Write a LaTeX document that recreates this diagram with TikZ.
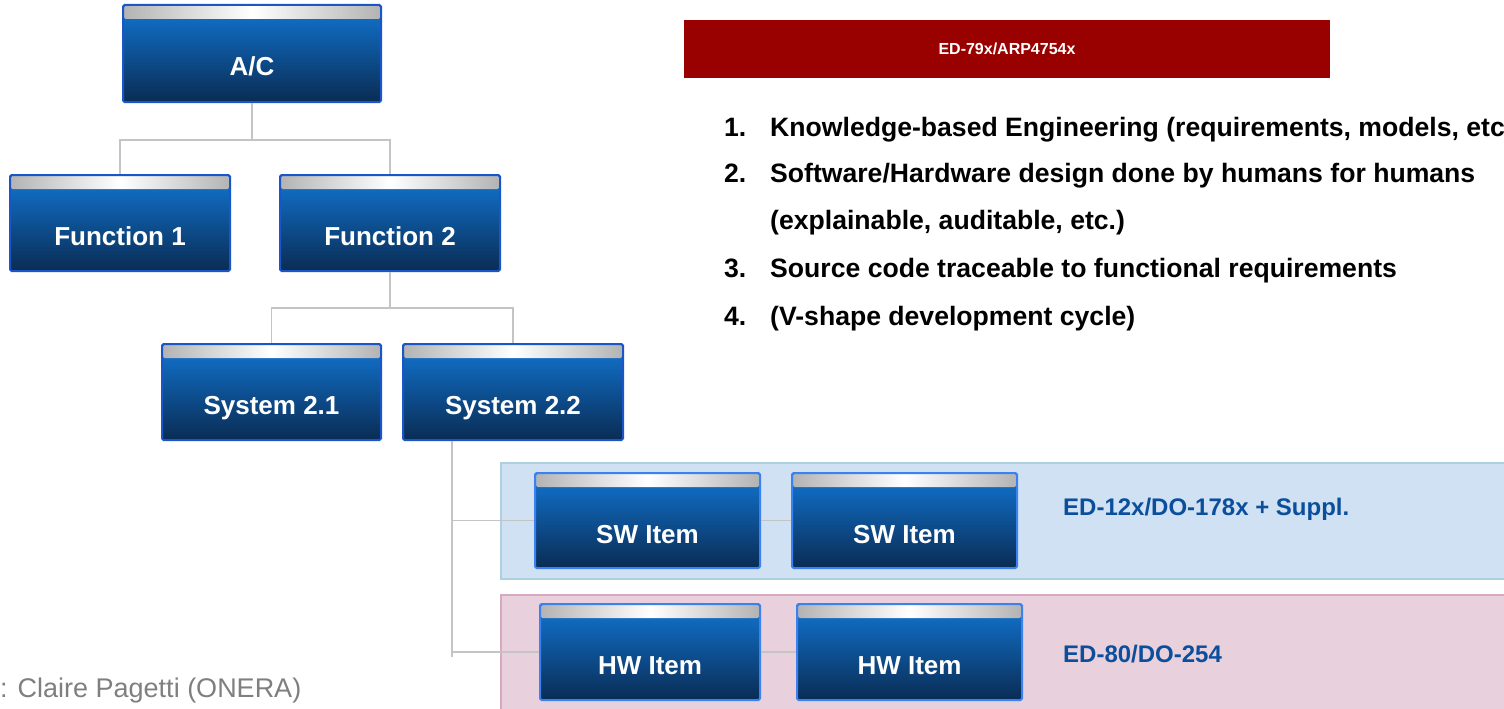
\documentclass[tikz,border=0pt]{standalone}
\usepackage{fontspec}
\setmainfont{Liberation Sans}
\begin{document}
\begin{tikzpicture}[x=1pt,y=-1pt,
  conn/.style={draw=linegray, line width=1.8pt},
  unitbox/.style={draw=#1, line width=2pt, rounded corners=1.5pt,
    top color=bodytop, middle color=bodymid, bottom color=bodybot,
    inner sep=0pt, text height=45pt, text depth=0pt, text=white,
    font=\fontsize{26pt}{30pt}\selectfont\bfseries,
    path picture={\shade[left color=bandgray, right color=bandgray, middle color=white]
      ([xshift=1pt,yshift=-1pt]path picture bounding box.north west) rectangle
      ([xshift=-1pt,yshift=-14pt]path picture bounding box.north east);}},
  unitbox/.default=uppblue,
  panel/.style={draw=#1, line width=1.5pt, anchor=north west, inner sep=0pt},
  listline/.style={anchor=base west, inner sep=0pt, text=black,
    font=\fontsize{26.6pt}{30pt}\selectfont\bfseries},
  stdlabel/.style={anchor=base west, inner sep=0pt, text=stdblue,
    font=\fontsize{24pt}{28pt}\selectfont\bfseries}]
\definecolor{linegray}{HTML}{C4C4C4}
\definecolor{uppblue}{HTML}{1A56C8}
\definecolor{lowblue}{HTML}{3B82F0}
\definecolor{bodytop}{HTML}{1175D2}
\definecolor{bodymid}{HTML}{125FAE}
\definecolor{bodybot}{HTML}{0A2C54}
\definecolor{bandgray}{HTML}{B3B3B3}
\definecolor{stdred}{HTML}{990000}
\definecolor{swfill}{HTML}{CFE1F2}
\definecolor{swedge}{HTML}{ACD0DE}
\definecolor{hwfill}{HTML}{E9D0DD}
\definecolor{hwedge}{HTML}{D6A9C1}
\definecolor{stdblue}{HTML}{0B4F9C}
\definecolor{creditgray}{HTML}{7F7F7F}

\useasboundingbox (0,0) rectangle (1504,709);

% background bands for software and hardware items
\node[panel=swedge, fill=swfill, minimum width=1020pt, minimum height=116pt] (swpanel) at (500,462) {};
\node[panel=hwedge, fill=hwfill, minimum width=1020pt, minimum height=125pt] (hwpanel) at (500,594) {};

% standard header
\node[fill=stdred, minimum width=646pt, minimum height=58pt, inner sep=0pt, text=white,
      font=\fontsize{16pt}{19pt}\selectfont\bfseries] (arp) at (1007,49) {ED-79x/ARP4754x};

% branching points of the hierarchy
\coordinate (acsplit) at (252,140);
\coordinate (fsplit) at (390,308);
\coordinate (trunk) at (452,657);

% box centres
\path (252,53.5) coordinate (acc) (120,223) coordinate (f1c) (390,223) coordinate (f2c)
      (271.5,392) coordinate (s21c) (513,392) coordinate (s22c)
      (647.5,520.5) coordinate (sw1c) (904.5,520.5) coordinate (sw2c)
      (650,652) coordinate (hw1c) (909.5,652) coordinate (hw2c);

% hierarchy boxes
\node[unitbox, minimum width=258pt, minimum height=97pt] (ac) at (acc) {A/C};
\node[unitbox, minimum width=220pt, minimum height=96pt] (f1) at (f1c) {Function 1};
\node[unitbox, minimum width=220pt, minimum height=96pt] (f2) at (f2c) {Function 2};
\node[unitbox, minimum width=219pt, minimum height=96pt] (s21) at (s21c) {System 2.1};
\node[unitbox, minimum width=220pt, minimum height=96pt] (s22) at (s22c) {System 2.2};
\node[unitbox=lowblue, minimum width=225pt, minimum height=95pt] (sw1) at (sw1c) {SW Item};
\node[unitbox=lowblue, minimum width=225pt, minimum height=95pt] (sw2) at (sw2c) {SW Item};
\node[unitbox=lowblue, minimum width=220pt, minimum height=96pt] (hw1) at (hw1c) {HW Item};
\node[unitbox=lowblue, minimum width=225pt, minimum height=96pt] (hw2) at (hw2c) {HW Item};

% connectors between the boxes
\draw[conn] (ac.south) -- (acsplit) -| (f1.north);
\draw[conn] (acsplit) -| (f2.north);
\draw[conn] (f2.south) -- (fsplit) -| (s21.north);
\draw[conn] (fsplit) -| (s22.north);
\draw[conn] (s22.south -| trunk) -- (trunk);
\draw[conn] (trunk |- sw1.west) -- (sw1.west);
\draw[conn] (trunk |- hw1.west) -- (hw1.west);
\draw[conn] (sw1.east) -- (sw2.west);
\draw[conn] (hw1.east) -- (hw2.west);

% standards
\node[stdlabel] (do178) at (1063,515) {ED-12x/DO-178x + Suppl.};
\node[stdlabel] (do254) at (1063,662) {ED-80/DO-254};

% guideline list
\node[listline] (li1) at (724,136) {\makebox[46pt][l]{1.}Knowledge-based Engineering (requirements, models, etc};
\node[listline] (li2) at (724,182) {\makebox[46pt][l]{2.}Software/Hardware design done by humans for humans};
\node[listline] (li2b) at (770,229) {(explainable, auditable, etc.)};
\node[listline] (li3) at (724,277) {\makebox[46pt][l]{3.}Source code traceable to functional requirements};
\node[listline] (li4) at (724,325) {\makebox[46pt][l]{4.}(V-shape development cycle)};

% credit
\node[anchor=base west, inner sep=0pt, text=creditgray,
      font=\fontsize{27pt}{32pt}\selectfont] (credit) at (0,697) {: Claire Pagetti (ONERA)};
\end{tikzpicture}
\end{document}
